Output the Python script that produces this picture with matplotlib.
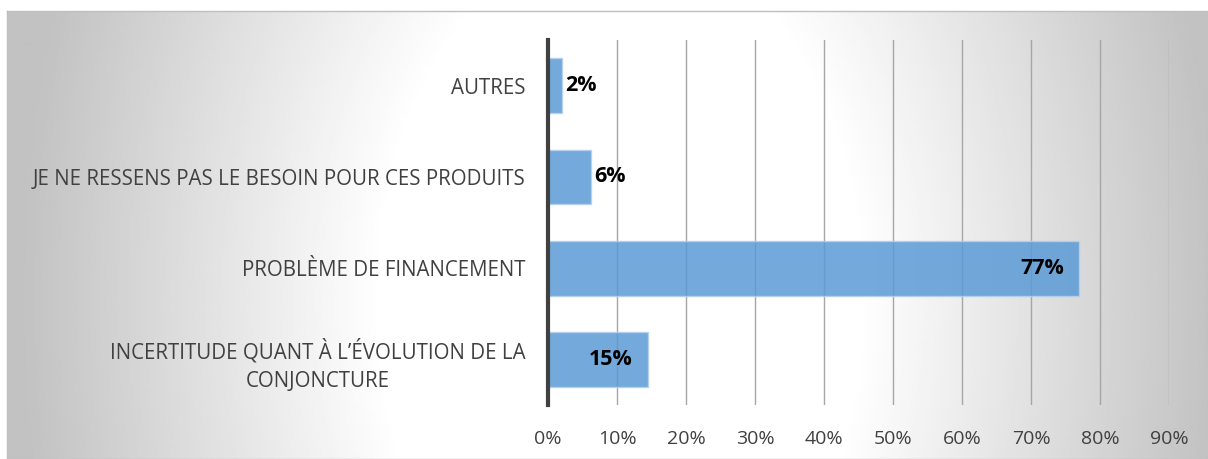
import numpy as np
import matplotlib.pyplot as plt
from matplotlib.ticker import FuncFormatter

categories = ["INCERTITUDE QUANT À L’ÉVOLUTION DE LA\nCONJONCTURE",
              "PROBLÈME DE FINANCEMENT",
              "JE NE RESSENS PAS LE BESOIN POUR CES PRODUITS",
              "AUTRES"]
values = [14.5, 77, 6.2, 2]
labels = ["15%", "77%", "6%", "2%"]
xticks = [0, 10, 20, 30, 40, 50, 60, 70, 80, 90]

plt.rcParams['font.family'] = ['Open Sans', 'DejaVu Sans']

W, H = 1208, 459
fig = plt.figure(figsize=(W / 100, H / 100), dpi=100)
fig.patch.set_facecolor("white")

# chart-area background: grey edges, broad white centre
bg = fig.add_axes([7 / W, 0, 1 - 7 / W, 1 - 11 / H], zorder=0)
px, py = np.meshgrid(np.linspace(7, W, 600), np.linspace(H, 11, 230))
u = (px - 620) / 600
v = (py - 300) / 600
d = np.sqrt(u ** 2 + (v / 1.5) ** 2)
shade = 1.0 - 0.24 * np.clip((d - 0.4) / 0.6, 0, 1)
bg.imshow(shade, cmap="gray", vmin=0, vmax=1, origin="lower",
          extent=[0, 1, 0, 1], aspect="auto", interpolation="bilinear")
bg.set_xticks([]); bg.set_yticks([])
for s in bg.spines.values():
    s.set_color("#bfbfbf"); s.set_linewidth(1)

ax = fig.add_axes([548 / W, 54 / H, 621 / W, 365 / H], zorder=1)
ax.patch.set_alpha(0)
y = np.arange(len(categories))
ax.barh(y, values, height=0.6, color="#5b9bd5", alpha=0.85,
        edgecolor="#b4d0ec", linewidth=1, zorder=2)

for yi, v, lab in zip(y, values, labels):
    if v < 10:
        ax.text(v + 0.5, yi, lab, ha="left", va="center", fontsize=15.5,
                fontweight="bold", color="black", zorder=3)
    else:
        ax.text(v - 2.2, yi, lab, ha="right", va="center", fontsize=15.5,
                fontweight="bold", color="black", zorder=3)

ax.set_xlim(0, 90)
ax.set_ylim(-0.5, 3.5)
ax.set_xticks(xticks)
ax.xaxis.set_major_formatter(FuncFormatter(lambda v, p: f"{v:.0f}%"))
ax.set_yticks(y)
ax.set_yticklabels(categories, multialignment="center", linespacing=1.45)
ax.tick_params(axis="both", length=0, labelcolor="#404040")
ax.tick_params(axis="x", pad=18, labelsize=14)
ax.tick_params(axis="y", pad=16, labelsize=14.8)
ax.grid(axis="x", color="#a6a6a6", linewidth=1, zorder=1)
ax.set_axisbelow(True)
for k in ["top", "right", "bottom"]:
    ax.spines[k].set_visible(False)
ax.spines["left"].set_color("#404040")
ax.spines["left"].set_linewidth(3)
ax.spines["left"].set_zorder(4)

fig.savefig("out.png", dpi=100)
